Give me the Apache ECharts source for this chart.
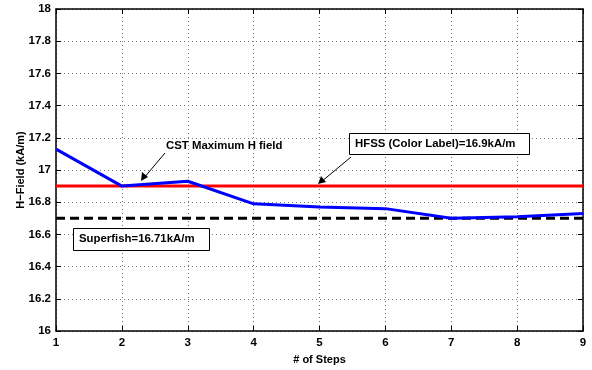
<!DOCTYPE html>
<html>
<head>
<meta charset="utf-8">
<script src="https://cdn.jsdelivr.net/npm/echarts@6/dist/echarts.min.js"></script>
<style>
  html, body { margin: 0; padding: 0; background: #fff; }
  #chart { width: 592px; height: 370px; }
</style>
</head>
<body>
<div id="chart"></div>
<script>
// data
const steps = [1, 2, 3, 4, 5, 6, 7, 8, 9];
const cstValues = [17.13, 16.90, 16.93, 16.79, 16.77, 16.76, 16.70, 16.71, 16.73];
const hfssValue = 16.9;
const superfishValue = 16.7;
const labels = {
  cst: 'CST Maximum H field',
  hfss: 'HFSS (Color Label)=16.9kA/m',
  superfish: 'Superfish=16.71kA/m'
};

const font = 'Liberation Sans, Arial, Helvetica, sans-serif';
const chart = echarts.init(document.getElementById('chart'));

const tickStyle = { inside: true, length: 5, lineStyle: { color: '#000', width: 1 } };
const gridLine = { show: true, lineStyle: { color: '#777', type: [1, 3], width: 1 } };
const axisLabel = { color: '#000', fontFamily: font, fontWeight: 'bold', fontSize: 11.5 };

const xs = [steps[0], steps[steps.length - 1]];

chart.setOption({
  animation: false,
  backgroundColor: '#fff',
  grid: { left: 56, right: 9, top: 9, bottom: 33, show: false },
  xAxis: [
    {
      type: 'value', min: 1, max: 9, interval: 1,
      name: '# of Steps', nameLocation: 'middle', nameGap: 23,
      nameTextStyle: { color: '#000', fontFamily: font, fontWeight: 'bold', fontSize: 11 },
      axisLine: { lineStyle: { color: '#000', width: 1.5 } },
      axisTick: tickStyle,
      axisLabel: Object.assign({ margin: 6 }, axisLabel),
      splitLine: gridLine
    },
    {
      type: 'value', min: 1, max: 9, interval: 1, position: 'top',
      axisLine: { show: true, lineStyle: { color: '#000', width: 1.5 } },
      axisTick: tickStyle, axisLabel: { show: false }, splitLine: { show: false }
    }
  ],
  yAxis: [
    {
      type: 'value', min: 16, max: 18, interval: 0.2,
      name: 'H\u2212Field (kA/m)', nameLocation: 'middle', nameGap: 30,
      nameMoveOverlap: false,
      nameTextStyle: { color: '#000', fontFamily: font, fontWeight: 'bold', fontSize: 11 },
      axisLine: { show: true, lineStyle: { color: '#000', width: 1.5 } },
      axisTick: tickStyle,
      axisLabel: Object.assign({ margin: 5 }, axisLabel),
      splitLine: gridLine
    },
    {
      type: 'value', min: 16, max: 18, interval: 0.2, position: 'right',
      axisLine: { show: true, lineStyle: { color: '#000', width: 1.5 } },
      axisTick: tickStyle, axisLabel: { show: false }, splitLine: { show: false }
    }
  ],
  series: [
    {
      name: 'HFSS', type: 'line', symbol: 'none',
      data: xs.map(x => [x, hfssValue]),
      lineStyle: { color: '#ff0000', width: 3 }, z: 3
    },
    {
      name: 'Superfish', type: 'line', symbol: 'none',
      data: xs.map(x => [x, superfishValue]),
      lineStyle: { color: '#000', width: 3, type: [9, 5] }, z: 3
    },
    {
      name: 'CST', type: 'line', symbol: 'none',
      data: steps.map((s, i) => [s, cstValues[i]]),
      lineStyle: { color: '#0000ff', width: 3 }, z: 4
    }
  ],
  graphic: [
    // CST label, no box
    {
      type: 'text', left: 166, top: 140, z: 10,
      style: { text: labels.cst, fill: '#000', font: 'bold 11.4px ' + font }
    },
    {
      type: 'line', z: 10,
      shape: { x1: 165, y1: 153, x2: 143, y2: 179 },
      style: { stroke: '#000', lineWidth: 1 }
    },
    {
      type: 'polygon', z: 10,
      shape: { points: [[141, 181], [142, 172], [148, 177]] },
      style: { fill: '#000' }
    },
    // HFSS label with box
    {
      type: 'rect', z: 10,
      shape: { x: 349.5, y: 133.5, width: 180, height: 21 },
      style: { fill: '#fff', stroke: '#000', lineWidth: 1 }
    },
    {
      type: 'text', left: 355, top: 138, z: 11,
      style: { text: labels.hfss, fill: '#000', font: 'bold 11.4px ' + font }
    },
    {
      type: 'line', z: 10,
      shape: { x1: 351, y1: 157, x2: 321, y2: 182 },
      style: { stroke: '#000', lineWidth: 1 }
    },
    {
      type: 'polygon', z: 10,
      shape: { points: [[318, 184], [321, 176], [326, 182]] },
      style: { fill: '#000' }
    },
    // Superfish label with box
    {
      type: 'rect', z: 10,
      shape: { x: 73.5, y: 228.5, width: 136, height: 22 },
      style: { fill: '#fff', stroke: '#000', lineWidth: 1 }
    },
    {
      type: 'text', left: 79, top: 233, z: 11,
      style: { text: labels.superfish, fill: '#000', font: 'bold 11.4px ' + font }
    }
  ]
});
</script>
</body>
</html>
